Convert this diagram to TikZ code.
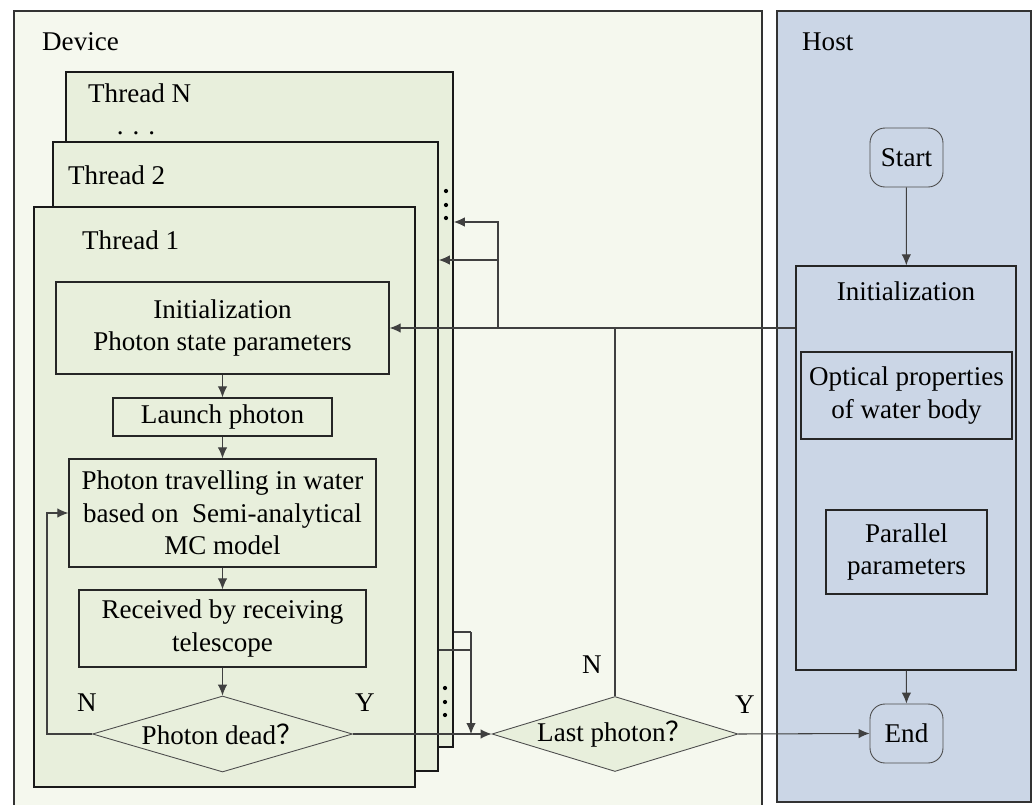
\documentclass[tikz,border=0pt]{standalone}
\usepackage{fontspec}
\setmainfont{Liberation Serif}
\newfontfamily\cjk{Noto Sans CJK SC}
\usetikzlibrary{arrows.meta,shapes.geometric,fit}
\definecolor{devicebg}{HTML}{F5F8EE}
\definecolor{threadbg}{HTML}{E8EFDC}
\definecolor{hostbg}{HTML}{CBD6E6}

\begin{document}
\begin{tikzpicture}[x=0.02cm,y=-0.02cm,>={Latex[length=2.2mm,width=1.9mm]},
    every node/.style={font=\fontsize{15.4}{18.4}\selectfont}]
    \tikzstyle{panel}=[draw=black!80,line width=0.8pt,inner sep=0pt]
    \tikzstyle{thread}=[draw=black!90,fill=threadbg,line width=0.9pt,inner sep=0pt]
    \tikzstyle{box}=[draw=black!85,line width=0.8pt,inner sep=0pt,align=center]
    \tikzstyle{decision}=[diamond,draw=black!70,fill=threadbg,line width=0.5pt,inner sep=0pt,shape aspect=3.4]
    \tikzstyle{term}=[rectangle,rounded corners=0.3cm,draw=black!70,line width=0.5pt,minimum width=1.46cm,minimum height=1.18cm]
    \tikzstyle{line}=[draw=black!75,line width=0.6pt]

    \useasboundingbox (0,0) rectangle (1036,805);

    % the two areas
    \node[panel,fill=devicebg,fit={(14,11) (762,812)}] (device) {};
    \node[panel,fill=hostbg,fit={(777,11) (1031,802)}] (host) {};
    \node[anchor=west] (devlbl) at (36,42) {Device};
    \node[anchor=west] (hostlbl) at (796,42) {Host};

    % stacked threads, thread 1 on top
    \foreach \id/\l/\t/\r/\b in {N/66/72/453/747, 2/53/142/438/771, 1/34/207/415/787}
        \node[thread,fit={(\l,\t) (\r,\b)}] (T-\id) {};
    \foreach \id/\x/\y in {N/82/93, 2/62/175, 1/76/240}
        \node[anchor=west] (L-\id) at (\x,\y) {Thread \id};
    \node[anchor=base] (tdots) at (136,134) {. . .};
    \foreach \y in {191,205,218}
        \fill (446,\y) circle (1.2pt);
    \foreach \y in {688,702,715}
        \fill (445,\y) circle (1.2pt);

    % steps of one thread
    \node[box,minimum width=6.66cm,minimum height=1.84cm] (init) at (222.5,328) {Initialization\\Photon state parameters};
    \node[box,minimum width=4.38cm,minimum height=0.76cm] (launch) at (222.5,417) {Launch photon};
    \node[box,minimum width=6.14cm,minimum height=2.16cm] (travel) at (222.5,513) {Photon travelling in water\\based on\ \ Semi-analytical\\MC model};
    \node[box,minimum width=5.74cm,minimum height=1.54cm] (recv) at (222.5,628.5) {Received by receiving\\telescope};
    \node[decision,minimum width=5.2cm,minimum height=1.52cm] (dead) at (222.5,734) {Photon dead{\cjk ？}};
    \node[decision,minimum width=4.92cm,minimum height=1.5cm] (last) at (615,734) {Last photon{\cjk ？}};

    % host side
    \node[term] (start) at (906.5,157.5) {Start};
    \node[box,fill=hostbg,fit={(796,266) (1016,670)}] (hinit) {};
    \node (hinitlbl) at (906,291) {Initialization};
    \node[box,minimum width=4.22cm,minimum height=1.74cm] (optic) at (906.5,395.5) {Optical properties\\of water body};
    \node[box,minimum width=3.22cm,minimum height=1.68cm] (para) at (906.5,552) {Parallel\\parameters};
    \node[term] (end) at (906.5,733.5) {End};

    \node (dn) at (87,703) {N};
    \node (dy) at (365,703) {Y};
    \node (ln) at (592,665) {N};
    \node (ly) at (745,705) {Y};

    \foreach \from/\to in {init/launch, launch/travel, travel/recv, recv/dead}
        \draw[line,->] (\from.south) -- (\to.north);
    \draw[line,->] (start) -- (hinit);
    \draw[line,->] (hinit) -- (end);

    \draw[line,->] (init.east -| hinit.west) -- (init.east);
    \coordinate (br) at (498,328);
    \coordinate (brN) at (498,222);
    \coordinate (br2) at (498,260);
    \draw[line,->] (br) -- (brN) -- (brN -| T-N.east);
    \draw[line,->] (br2) -- (br2 -| T-2.east);
    \draw[line] (init.east -| last.north) -- (last.north);

    \coordinate (loop) at (47,734);
    \draw[line,->] (dead.west) -- (loop) |- (travel.west);
    \draw[line,->] (dead.east) -- (last.west);
    \coordinate (jN) at (471,632);
    \coordinate (j2) at (471,650);
    \draw[line] (jN -| T-N.east) -- (jN);
    \draw[line] (j2 -| T-2.east) -- (j2);
    \draw[line,->] (jN) -- (jN |- last.west);
    \draw[line,->] (last.east) -- (end.west);
\end{tikzpicture}
\end{document}
